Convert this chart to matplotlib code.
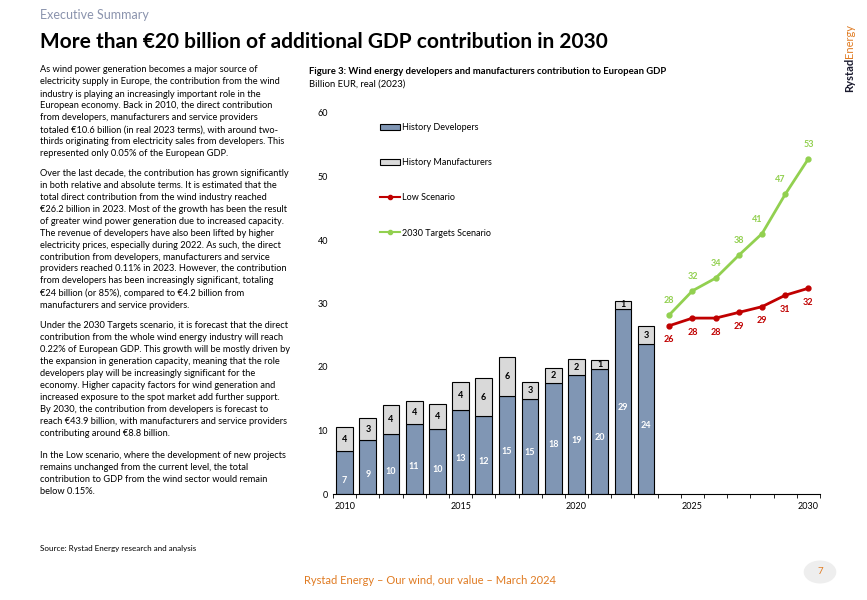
import matplotlib
matplotlib.use("Agg")
import matplotlib.pyplot as plt
import numpy as np
from matplotlib.lines import Line2D
from matplotlib.patches import Patch, Circle

plt.rcParams['font.family'] = ['Lato', 'DejaVu Sans']

years_hist = [2010, 2011, 2012, 2013, 2014, 2015, 2016, 2017, 2018, 2019, 2020, 2021, 2022, 2023]
developers = [6.7, 8.5, 9.5, 11.0, 10.2, 13.2, 12.3, 15.4, 15.0, 17.5, 18.8, 19.7, 29.2, 23.6]
manufacturers = [3.9, 3.4, 4.5, 3.7, 3.9, 4.5, 5.9, 6.2, 2.7, 2.4, 2.4, 1.4, 1.2, 2.8]
dev_labels = [7, 9, 10, 11, 10, 13, 12, 15, 15, 18, 19, 20, 29, 24]
man_labels = [4, 3, 4, 4, 4, 4, 6, 6, 3, 2, 2, 1, 1, 3]
years_fc = [2024, 2025, 2026, 2027, 2028, 2029, 2030]
low = [26.5, 27.7, 27.7, 28.6, 29.5, 31.3, 32.4]
low_labels = [26, 28, 28, 29, 29, 31, 32]
targets = [28.2, 32.0, 34.0, 37.6, 41.0, 47.2, 52.8]
target_labels = [28, 32, 34, 38, 41, 47, 53]

W, H = 867, 600
fig = plt.figure(figsize=(8.67, 6.0), dpi=100)

def ft(x, y, s, **kw):
    fig.text(x / W, 1 - y / H, s, **kw)

ft(40, 15, "Executive Summary", fontsize=9, color="#8a93ad", va="center")
ft(40, 42, "More than €20 billion of additional GDP contribution in 2030", fontsize=15, fontweight="bold", va="center")

paras = [
    ["As wind power generation becomes a major source of",
     "electricity supply in Europe, the contribution from the wind",
     "industry is playing an increasingly important role in the",
     "European economy. Back in 2010, the direct contribution",
     "from developers, manufacturers and service providers",
     "totaled €10.6 billion (in real 2023 terms), with around two-",
     "thirds originating from electricity sales from developers. This",
     "represented only 0.05% of the European GDP."],
    ["Over the last decade, the contribution has grown significantly",
     "in both relative and absolute terms. It is estimated that the",
     "total direct contribution from the wind industry reached",
     "€26.2 billion in 2023. Most of the growth has been the result",
     "of greater wind power generation due to increased capacity.",
     "The revenue of developers have also been lifted by higher",
     "electricity prices, especially during 2022. As such, the direct",
     "contribution from developers, manufacturers and service",
     "providers reached 0.11% in 2023. However, the contribution",
     "from developers has been increasingly significant, totaling",
     "€24 billion (or 85%), compared to €4.2 billion from",
     "manufacturers and service providers."],
    ["Under the 2030 Targets scenario, it is forecast that the direct",
     "contribution from the whole wind energy industry will reach",
     "0.22% of European GDP. This growth will be mostly driven by",
     "the expansion in generation capacity, meaning that the role",
     "developers play will be increasingly significant for the",
     "economy. Higher capacity factors for wind generation and",
     "increased exposure to the spot market add further support.",
     "By 2030, the contribution from developers is forecast to",
     "reach €43.9 billion, with manufacturers and service providers",
     "contributing around €8.8 billion."],
    ["In the Low scenario, where the development of new projects",
     "remains unchanged from the current level, the total",
     "contribution to GDP from the wind sector would remain",
     "below 0.15%."],
]
starts = [70, 173, 325, 455]
for st, lines in zip(starts, paras):
    for i, l in enumerate(lines):
        ft(40, st + i * 12.0, l, fontsize=6.7, va="center")

ft(40, 549, "Source: Rystad Energy research and analysis", fontsize=5.8, va="center")
ft(309, 72, "Figure 3: Wind energy developers and manufacturers contribution to European GDP", fontsize=6.8, fontweight="bold", va="center")
ft(309, 84, "Billion EUR, real (2023)", fontsize=6.8, va="center")
ft(430, 580, "Rystad Energy – Our wind, our value – March 2024", fontsize=8, color="#e07b22", va="center", ha="center")
fig.patches.append(Circle((820 / W, 1 - 572 / H), 0.018, transform=fig.transFigure, color="#eeeeee", zorder=0))
ft(820, 572, "7", fontsize=7, color="#e07b22", va="center", ha="center")
ft(850, 58, "Rystad", fontsize=8, fontweight="bold", rotation=90, va="top", ha="center", color="#1a1a2e")
ft(850, 58, "Energy", fontsize=8, rotation=90, va="bottom", ha="center", color="#e07b22")

ax = fig.add_axes([333 / W, 1 - 494 / H, (820 - 333) / W, (494 - 113) / H])
dev_c, man_c = "#8096b4", "#d9d9d9"
ax.bar(years_hist, developers, width=0.72, color=dev_c, edgecolor="black", linewidth=0.8)
ax.bar(years_hist, manufacturers, bottom=developers, width=0.72, color=man_c, edgecolor="black", linewidth=0.8)
for x, d, m, dl, ml in zip(years_hist, developers, manufacturers, dev_labels, man_labels):
    ax.text(x, d / 2 - 1.2 if d < 12 else d / 2 - 1, str(dl), ha="center", va="center", color="white", fontsize=6.5, fontweight="bold")
    ax.text(x, d + m / 2, str(ml), ha="center", va="center", color="black", fontsize=6.5, fontweight="bold")
g, r = "#92d050", "#c00000"
ax.plot(years_fc, low, color=r, lw=2, marker="o", ms=3.5)
ax.plot(years_fc, targets, color=g, lw=2, marker="o", ms=3.5)
for x, v, l in zip(years_fc, low, low_labels):
    ax.text(x, v - 2.2, str(l), ha="center", va="center", color=r, fontsize=6.5, fontweight="bold")
for x, v, l in zip(years_fc, targets, target_labels):
    ax.text(x - (0.2 if x in (2028, 2029) else 0), v + 2.3, str(l), ha="center", va="center", color=g, fontsize=6.5, fontweight="bold")

ax.set_xlim(2009.53, 2030.43)
ax.set_ylim(0, 60)
ax.set_yticks([0, 10, 20, 30, 40, 50, 60])
ax.set_xticks([2010, 2015, 2020, 2025, 2030])
ax.set_xticks(np.arange(2009.5, 2030.6, 1), minor=True)
ax.tick_params(axis="x", which="major", length=0, labelsize=6.5, pad=6)
ax.tick_params(axis="x", which="minor", length=3, direction="out")
ax.tick_params(axis="y", length=0, labelsize=6.5)
for s in ["top", "right", "left"]:
    ax.spines[s].set_visible(False)

handles = [Patch(facecolor=dev_c, edgecolor="black", lw=0.8), Patch(facecolor=man_c, edgecolor="black", lw=0.8),
           Line2D([], [], color=r, lw=1.5, marker="o", ms=3), Line2D([], [], color=g, lw=1.5, marker="o", ms=3)]
ax.legend(handles, ["History Developers", "History Manufacturers", "Low Scenario", "2030 Targets Scenario"],
          loc="upper left", bbox_to_anchor=(0.08, 0.995), frameon=False, fontsize=6.5,
          labelspacing=2.9, handlelength=2.2, handletextpad=0.2)

fig.savefig("out.png", dpi=100)
